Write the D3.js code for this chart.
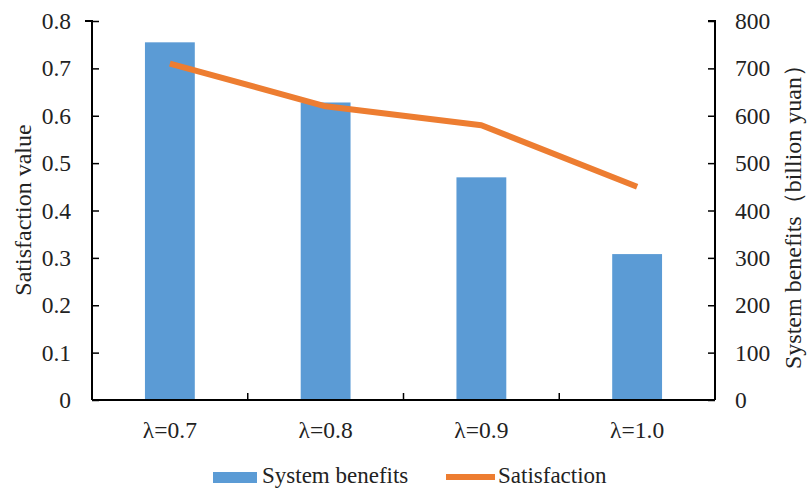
<!DOCTYPE html>
<html><head><meta charset="utf-8">
<script src="https://cdn.jsdelivr.net/npm/d3@7"></script>
<style>body{margin:0;background:#fff;}svg{display:block;}</style>
</head><body>
<script>
const categories = ["λ=0.7", "λ=0.8", "λ=0.9", "λ=1.0"];
const benefits = [755, 628, 470, 308];
const satisfaction = [0.71, 0.62, 0.58, 0.45];
const leftTicks = [0, 0.1, 0.2, 0.3, 0.4, 0.5, 0.6, 0.7, 0.8];
const rightTicks = [0, 100, 200, 300, 400, 500, 600, 700, 800];

const W = 807, H = 489;
const m = {left: 92, right: 715, top: 21, bottom: 400};
const font = "Liberation Serif, Times New Roman, serif";
const tickFs = 23.5;

const svg = d3.select("body").append("svg").attr("width", W).attr("height", H)
  .attr("font-family", font);
svg.append("rect").attr("width", W).attr("height", H).attr("fill", "#fff");

const x = d3.scaleBand().domain(categories).range([m.left, m.right]).paddingInner(0).paddingOuter(0);
const yL = d3.scaleLinear().domain([0, 0.8]).range([m.bottom, m.top]);
const yR = d3.scaleLinear().domain([0, 800]).range([m.bottom, m.top]);

const barW = x.bandwidth() * 0.32;
svg.selectAll("rect.bar").data(benefits).enter().append("rect")
  .attr("class", "bar")
  .attr("x", (d, i) => x(categories[i]) + x.bandwidth() / 2 - barW / 2)
  .attr("y", d => yR(d))
  .attr("width", barW)
  .attr("height", d => yR(0) - yR(d))
  .attr("fill", "#5B9BD5");

const gL = svg.append("g").attr("transform", `translate(${m.left},0)`)
  .call(d3.axisLeft(yL).tickValues(leftTicks).tickSize(-7).tickPadding(21).tickFormat(d => d === 0 ? "0" : d3.format(".1f")(d)));
const gR = svg.append("g").attr("transform", `translate(${m.right},0)`)
  .call(d3.axisRight(yR).tickValues(rightTicks).tickSize(-7).tickPadding(20));
const gX = svg.append("g").attr("transform", `translate(0,${m.bottom})`)
  .call(d3.axisBottom(x).tickSize(0).tickPadding(21));
const bounds = categories.slice(1).map(c => x(c));
gX.selectAll("line.bt").data(bounds).enter().append("line").attr("class", "bt")
  .attr("x1", d => d).attr("x2", d => d).attr("y1", 0).attr("y2", -7)
  .attr("stroke", "#000").attr("stroke-width", 1.5);

[gL, gR, gX].forEach(g => {
  g.attr("font-family", font).attr("font-size", tickFs);
  g.select(".domain").attr("stroke", "#000").attr("stroke-width", 2);
  g.selectAll(".tick line").attr("stroke", "#000").attr("stroke-width", 1.5);
  g.selectAll("text").attr("font-family", font).attr("font-size", tickFs).attr("fill", "#222");
});
gL.select(".domain").attr("d", `M-7,${m.top}H0V${m.bottom}`);
gR.select(".domain").attr("d", `M-7,${m.top}H0V${m.bottom}`);
gX.select(".domain").attr("d", `M${m.left},0H${m.right}`);

const line = d3.line().x((d, i) => x(categories[i]) + x.bandwidth() / 2).y(d => yL(d));
svg.append("path").datum(satisfaction).attr("d", line)
  .attr("fill", "none").attr("stroke", "#ED7D31").attr("stroke-width", 6)
  .attr("stroke-linejoin", "round");

svg.append("text").attr("transform", `translate(31,210) rotate(-90)`)
  .attr("text-anchor", "middle").attr("font-family", font).attr("font-size", 24).attr("fill", "#222")
  .text("Satisfaction value");
svg.append("text").attr("transform", `translate(801,211) rotate(-90)`)
  .attr("text-anchor", "middle").attr("font-family", font).attr("font-size", 24).attr("fill", "#222")
  .text("System benefits（billion yuan）");

const lg = svg.append("g");
lg.append("rect").attr("x", 213).attr("y", 472).attr("width", 44).attr("height", 11).attr("fill", "#5B9BD5");
lg.append("text").attr("x", 262).attr("y", 483).attr("font-family", font).attr("font-size", 23).attr("fill", "#222").text("System benefits");
lg.append("line").attr("x1", 446).attr("x2", 495).attr("y1", 477).attr("y2", 477).attr("stroke", "#ED7D31").attr("stroke-width", 6);
lg.append("text").attr("x", 498).attr("y", 483).attr("font-family", font).attr("font-size", 23).attr("fill", "#222").text("Satisfaction");
</script>
</body></html>
